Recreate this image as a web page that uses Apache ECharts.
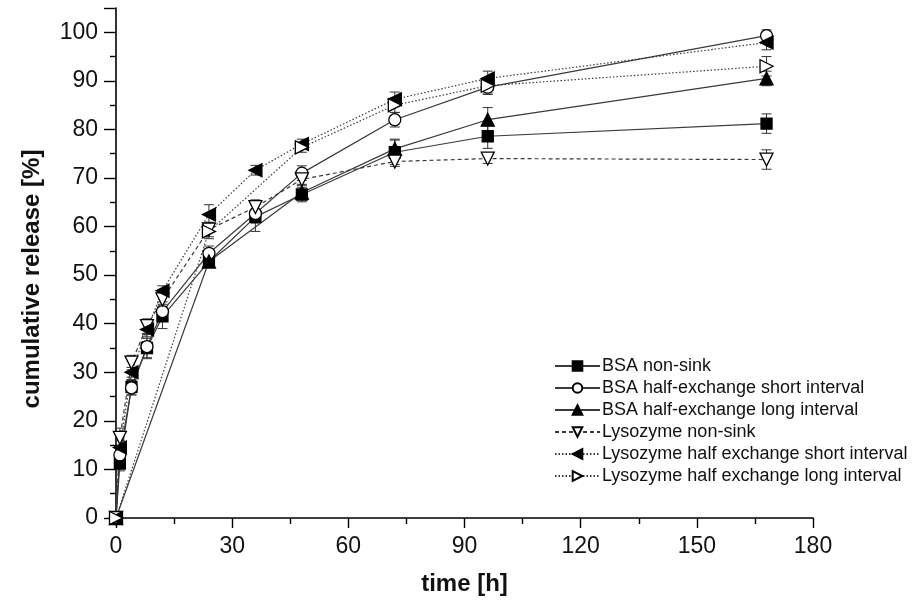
<!DOCTYPE html>
<html>
<head>
<meta charset="utf-8">
<script src="https://cdn.jsdelivr.net/npm/echarts@6/dist/echarts.min.js"></script>
<style>html,body{margin:0;padding:0;background:#fff}#c{width:920px;height:605px}</style>
</head>
<body>
<div id="c"></div>
<script>
// ---- data ----
const timesFull = [0, 1, 4, 8, 12, 24, 36, 48, 72, 96, 168];
const timesLong = [0, 24, 48, 72, 96, 168];

const bsaNonSink    = [0, 11.2, 27.0, 35.0, 41.5, 52.8, 62.0, 66.6, 75.3, 78.6, 81.2];
const bsaNonSinkErr = [0, 1.5, 1.5, 2.0, 2.5, 1.2, 3.0, 1.5, 2.5, 2.5, 2.0];
const bsaShort      = [0, 13.0, 26.8, 35.3, 42.5, 54.5, 62.7, 71.0, 82.0, 88.7, 99.3];
const bsaShortErr   = [0, 1.5, 1.5, 2.5, 2.0, 1.5, 2.0, 1.5, 1.5, 1.5, 1.2];
const bsaLong       = [0, 52.8, 67.0, 76.0, 82.0, 90.5];
const bsaLongErr    = [0, 1.2, 1.5, 2.0, 2.5, 1.5];
const lysoNonSink    = [0, 16.5, 32.0, 39.5, 45.0, 59.4, 64.0, 69.7, 73.4, 74.0, 73.8];
const lysoNonSinkErr = [0, 2.0, 1.5, 1.5, 1.5, 1.5, 1.5, 1.0, 1.0, 1.0, 2.0];
const lysoShort      = [0, 14.5, 30.0, 38.8, 46.8, 62.5, 71.6, 77.0, 86.2, 90.5, 97.9];
const lysoShortErr   = [0, 1.5, 1.0, 1.5, 1.0, 2.0, 1.0, 1.0, 1.5, 1.5, 1.5];
const lysoLong       = [0, 59.0, 76.3, 85.0, 89.0, 93.0];
const lysoLongErr    = [0, 1.5, 1.0, 1.5, 1.5, 2.0];

const xTicks = [0, 30, 60, 90, 120, 150, 180];
const yTicks = [0, 10, 20, 30, 40, 50, 60, 70, 80, 90, 100];

const names = [
  'BSA non-sink',
  'BSA half-exchange short interval',
  'BSA half-exchange long interval',
  'Lysozyme non-sink',
  'Lysozyme half exchange short interval',
  'Lysozyme half exchange long interval'
];

// ---- styling ----
const DOWN = 'path://M0,0 L10,0 L5,10 Z';
const LEFT = 'path://M10,0 L10,10 L0,5 Z';
const RIGHT = 'path://M0,0 L0,10 L10,5 Z';
const defs = [
  {t: timesFull, v: bsaNonSink, e: bsaNonSinkErr, sym: 'rect', size: 11, fill: '#000', line: 'solid'},
  {t: timesFull, v: bsaShort, e: bsaShortErr, sym: 'circle', size: 12, fill: '#fff', line: 'solid'},
  {t: timesLong, v: bsaLong, e: bsaLongErr, sym: 'triangle', size: 13, fill: '#000', line: 'solid'},
  {t: timesFull, v: lysoNonSink, e: lysoNonSinkErr, sym: DOWN, size: 13, fill: '#fff', line: [4, 3]},
  {t: timesFull, v: lysoShort, e: lysoShortErr, sym: LEFT, size: 13, fill: '#000', line: [1.5, 2]},
  {t: timesLong, v: lysoLong, e: lysoLongErr, sym: RIGHT, size: 13, fill: '#fff', line: [1.5, 2]}
];

const series = [];
defs.forEach((d, i) => {
  const pts = d.t.map((t, k) => [t, d.v[k]]);
  const errPts = d.t.map((t, k) => [t, d.v[k], d.e[k]]);
  series.push({
    type: 'custom',
    name: names[i] + ' err',
    data: errPts,
    z: 1,
    silent: true,
    renderItem: function (params, api) {
      const x = api.value(0), y = api.value(1), e = api.value(2);
      if (!e) return null;
      const hi = api.coord([x, y + e]);
      const lo = api.coord([x, y - e]);
      const w = 5;
      const st = {stroke: '#333', lineWidth: 1};
      return {
        type: 'group',
        children: [
          {type: 'line', shape: {x1: hi[0], y1: hi[1], x2: lo[0], y2: lo[1]}, style: st},
          {type: 'line', shape: {x1: hi[0] - w, y1: hi[1], x2: hi[0] + w, y2: hi[1]}, style: st},
          {type: 'line', shape: {x1: lo[0] - w, y1: lo[1], x2: lo[0] + w, y2: lo[1]}, style: st}
        ]
      };
    }
  });
  series.push({
    type: 'line',
    name: names[i],
    data: pts,
    z: 3,
    symbol: d.sym,
    symbolSize: d.size,
    symbolKeepAspect: true,
    showAllSymbol: true,
    lineStyle: {color: '#3a3a3a', width: 1.2, type: d.line},
    itemStyle: {color: d.fill, borderColor: '#000', borderWidth: 1.3},
    emphasis: {disabled: true},
    animation: false
  });
});

const chart = echarts.init(document.getElementById('c'), null, {renderer: 'canvas'});
const FONT = 'Liberation Sans, Arial, sans-serif';
chart.setOption({
  animation: false,
  backgroundColor: '#fff',
  grid: {left: 116, right: 107, top: 8, bottom: 87, containLabel: false},
  legend: {
    orient: 'vertical',
    left: 549,
    top: 352,
    itemWidth: 45,
    itemHeight: 12,
    itemGap: 4,
    data: names,
    textStyle: {fontFamily: FONT, fontSize: 18, color: '#111', padding: [0, 0, 0, -3]},
    inactiveColor: '#999'
  },
  xAxis: {
    type: 'value',
    min: xTicks[0],
    max: xTicks[xTicks.length - 1],
    interval: 30,
    name: 'time [h]',
    nameLocation: 'middle',
    nameGap: 54,
    nameTextStyle: {fontFamily: FONT, fontSize: 24, fontWeight: 'bold', color: '#111'},
    axisLine: {lineStyle: {color: '#000', width: 1.6}},
    axisTick: {show: true, inside: false, length: 10, lineStyle: {color: '#000', width: 1.4}},
    minorTick: {show: true, splitNumber: 2, length: 6, lineStyle: {color: '#000', width: 1.4}},
    axisLabel: {fontFamily: FONT, fontSize: 23, color: '#111', margin: 17},
    splitLine: {show: false}
  },
  yAxis: {
    type: 'value',
    min: 0,
    max: 105,
    interval: 10,
    name: 'cumulative release [%]',
    nameLocation: 'middle',
    nameGap: 72,
    nameTextStyle: {fontFamily: FONT, fontSize: 24, fontWeight: 'bold', color: '#111', padding: [0, 32, 0, 0]},
    axisLine: {show: true, lineStyle: {color: '#000', width: 1.6}},
    axisTick: {show: true, inside: false, length: 12, lineStyle: {color: '#000', width: 1.4}},
    minorTick: {show: true, splitNumber: 2, length: 6, lineStyle: {color: '#000', width: 1.4}},
    axisLabel: {
      fontFamily: FONT, fontSize: 23, color: '#111', margin: 18,
      formatter: function (v) { return yTicks.indexOf(v) >= 0 ? String(v) : ''; }
    },
    splitLine: {show: false}
  },
  series: series
});
</script>
</body>
</html>
